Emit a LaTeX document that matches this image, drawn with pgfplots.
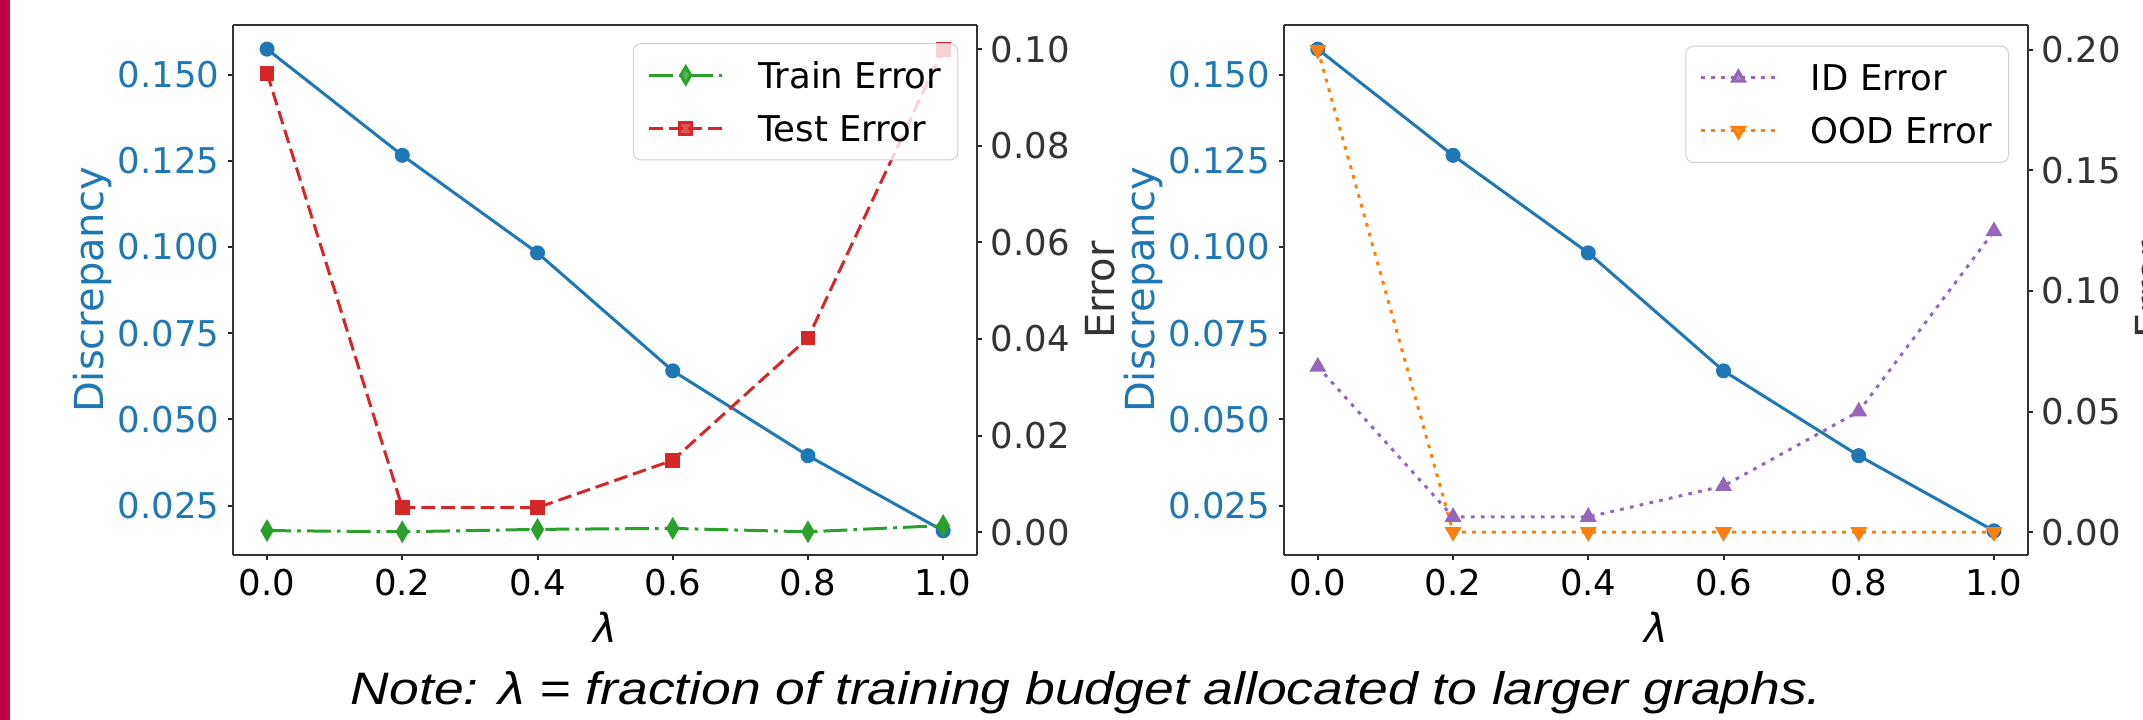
\documentclass[border=0pt]{standalone}
\usepackage{fontspec}
\setmainfont{DejaVu Sans}
\newfontfamily\notefont{Liberation Sans}
\usepackage{graphicx}
\usepackage{pgfplots}
\pgfplotsset{compat=1.18}
\definecolor{tblue}{HTML}{1F77B4}
\definecolor{torange}{HTML}{FF7F0E}
\definecolor{tgreen}{HTML}{2CA02C}
\definecolor{tred}{HTML}{D62728}
\definecolor{tpurple}{HTML}{9467BD}
\definecolor{barred}{RGB}{192,0,72}
\pgfplotsset{
  common/.style={
    scale only axis, width=297.5pt, height=212pt,
    anchor=south west,
    xmin=-0.05, xmax=1.05,
    tick align=outside, major tick length=2pt,
    every tick/.style={black!85, line width=0.8pt},
    axis line style={black!80, line width=0.9pt},
    ticklabel style={font=\fontsize{14.2}{17}\selectfont},
    label style={font=\fontsize{16}{19}\selectfont},
    /pgf/number format/assume math mode=true,
    scaled ticks=false,
  },
  primary/.style={
    axis y line*=left, ytick pos=left, xtick pos=left,
    xtick={0,0.2,0.4,0.6,0.8,1.0},
    ymin=0.0107, ymax=0.1644,
    ytick={0.025,0.05,0.075,0.1,0.125,0.15},
    yticklabel style={text=tblue, /pgf/number format/fixed, /pgf/number format/fixed zerofill, /pgf/number format/precision=3},
    xticklabel style={/pgf/number format/fixed, /pgf/number format/fixed zerofill, /pgf/number format/precision=1},
    ylabel={Discrepancy},
    ylabel style={at={(axis description cs:-0.1746,0.5)}, anchor=base, text=tblue},
    xlabel={\itshape λ},
    xlabel style={at={(axis description cs:0.5,-0.1363)}, anchor=center},
  },
  secondary/.style={
    axis y line*=right, axis x line=none, xtick=\empty,
    ytick pos=right, yticklabel pos=right,
    yticklabel style={text=black!80, /pgf/number format/fixed, /pgf/number format/fixed zerofill, /pgf/number format/precision=2},
    ylabel={Error},
    ylabel style={at={(axis description cs:1.1845,0.5)}, anchor=base, text=black!80},
    legend cell align=left,
    legend style={at={(1,1)}, anchor=north east, xshift=-7.5pt, yshift=-7.3pt,
      draw=black!18, rounded corners=3pt, fill=white, fill opacity=0.8, text opacity=1,
      font=\fontsize{14.2}{17}\selectfont,
      inner xsep=5.6pt, inner ysep=5.4pt, row sep=6.7pt,
      nodes={inner xsep=1pt, inner ysep=2pt, text height=10.5pt, text depth=0pt},
      /tikz/every odd column/.append style={column sep=12.6pt}},
    legend image code/.code={\draw[mark repeat=2,mark phase=2,#1] plot coordinates {(0pt,0pt) (14.8pt,0pt) (29.6pt,0pt)};},
  },
  disc/.style={tblue, line width=1.2pt, mark=*, mark size=2.4pt, mark options={solid}},
  train/.style={tgreen, line width=1.2pt, dash pattern=on 9.6pt off 2.4pt on 1.5pt off 2.4pt, mark=diamond*, mark size=3.4pt, mark options={solid, xscale=0.78}},
  test/.style={tred, line width=1.2pt, dash pattern=on 5.5pt off 2.4pt, mark=square*, mark size=2.35pt, mark options={solid}},
  idst/.style={tpurple, line width=1.2pt, dash pattern=on 1.5pt off 2.5pt, mark=triangle*, mark size=2.7pt, mark options={solid}},
  oodst/.style={torange, line width=1.2pt, dash pattern=on 1.5pt off 2.5pt, mark=triangle*, mark size=2.7pt, mark options={solid, rotate=180}},
}
\begin{document}
\begin{tikzpicture}
\fill[barred] (0,0) rectangle (4pt,288pt);
% ---------- left panel ----------
\begin{axis}[common, primary, at={(93.3pt,66pt)}]
\addplot[disc] coordinates {(0,0.1574) (0.2,0.1266) (0.4,0.0983) (0.6,0.0641) (0.8,0.0395) (1.0,0.0177)};
\end{axis}
\begin{axis}[common, secondary, at={(93.3pt,66pt)},
  ymin=-0.0047, ymax=0.1050, ytick={0,0.02,0.04,0.06,0.08,0.10}]
\addplot[train] coordinates {(0,0.00035) (0.2,0.0001) (0.4,0.0006) (0.6,0.0008) (0.8,0.0001) (1.0,0.0014)};
\addlegendentry{Train Error}
\addplot[test] coordinates {(0,0.0950) (0.2,0.0051) (0.4,0.0051) (0.6,0.0149) (0.8,0.0402) (1.0,0.1000)};
\addlegendentry{Test Error}
\end{axis}
% ---------- right panel ----------
\begin{axis}[common, primary, at={(513.6pt,66pt)}]
\addplot[disc] coordinates {(0,0.1574) (0.2,0.1266) (0.4,0.0983) (0.6,0.0641) (0.8,0.0395) (1.0,0.0177)};
\end{axis}
\begin{axis}[common, secondary, at={(513.6pt,66pt)},
  ymin=-0.0095, ymax=0.2103, ytick={0,0.05,0.10,0.15,0.20},
  legend style={yshift=-1pt}]
\addplot[idst] coordinates {(0,0.0686) (0.2,0.0063) (0.4,0.0063) (0.6,0.0191) (0.8,0.0500) (1.0,0.1248)};
\addlegendentry{ID Error}
\addplot[oodst] coordinates {(0,0.2000) (0.2,0) (0.4,0) (0.6,0) (0.8,0) (1.0,0)};
\addlegendentry{OOD Error}
\end{axis}
\node[anchor=base] at (434.6pt,6.2pt) {\scalebox{1.175}[1]{\notefont\itshape\fontsize{18.2}{21}\selectfont Note: λ = fraction of training budget allocated to larger graphs.}};
\pgfresetboundingbox
\useasboundingbox (0,0) rectangle (857.2pt,288pt);
\end{tikzpicture}
\end{document}
